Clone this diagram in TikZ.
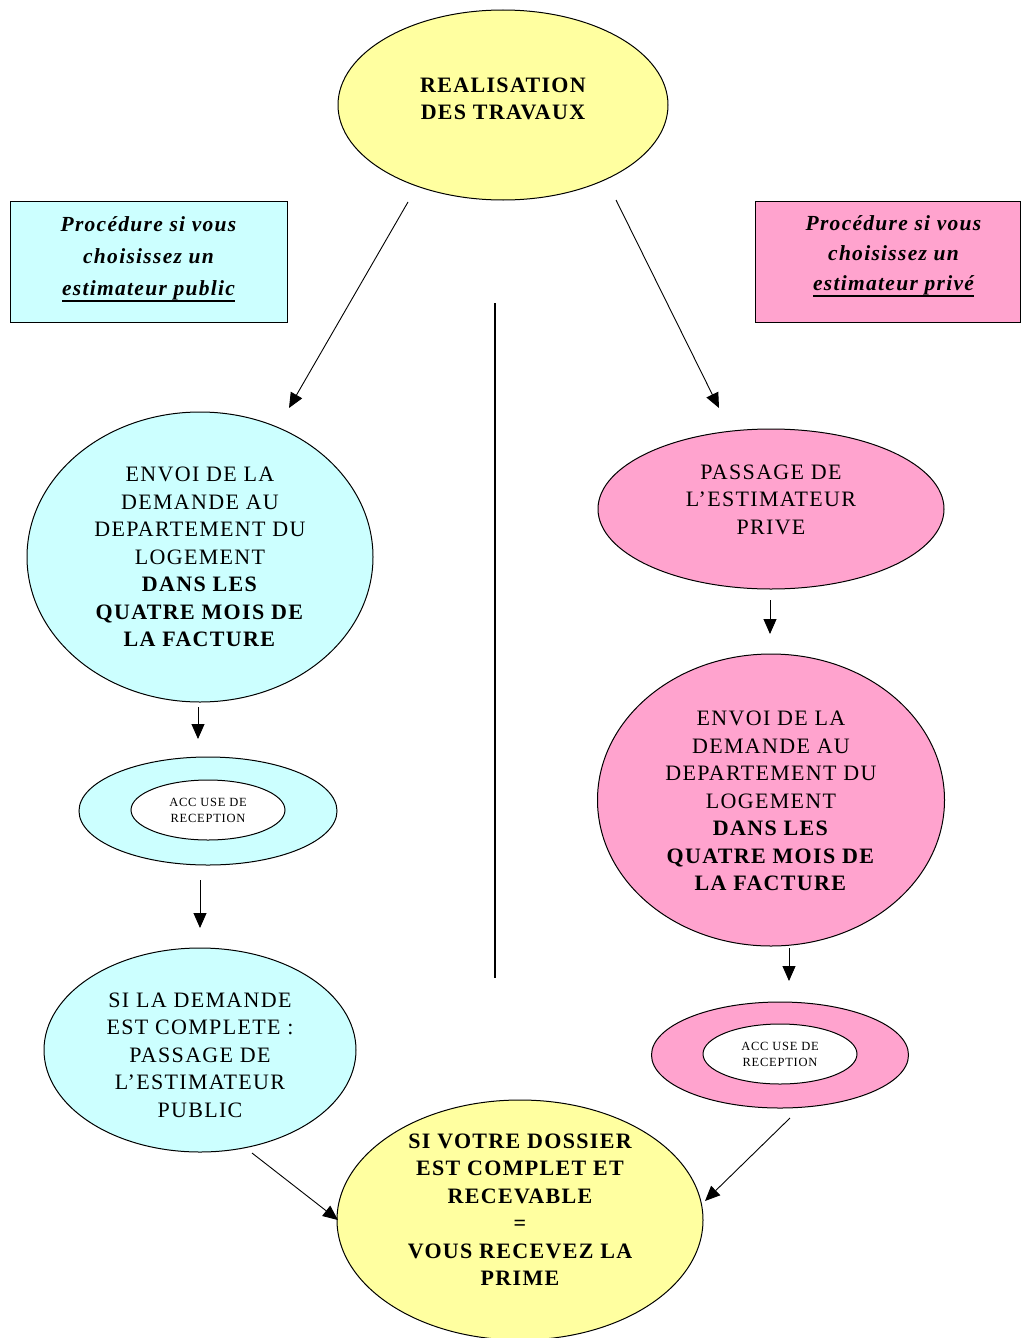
\documentclass[tikz,border=0pt]{standalone}
\usepackage{fontspec}
\setmainfont{Liberation Serif}[LetterSpace=6]
\newcommand{\myul}[1]{\leavevmode\setbox0\hbox{#1}\rlap{\rule[-6pt]{\wd0}{1.8pt}}\box0}
\usetikzlibrary{shapes.geometric,arrows.meta}
\definecolor{yel}{RGB}{255,255,160}
\definecolor{cya}{RGB}{204,255,255}
\definecolor{pnk}{RGB}{255,163,206}
\begin{document}
\begin{tikzpicture}[x=1pt,y=-1pt,
  ell/.style={ellipse, draw, line width=1pt, inner sep=0pt},
  lbl/.style={align=center, inner sep=0pt, font=\fontsize{22}{27.5}\selectfont},
  blbl/.style={lbl, font=\fontsize{22}{27.5}\selectfont\bfseries},
  smallell/.style={ellipse, draw, line width=1pt, inner sep=0pt, fill=white, align=center,
    font=\fontsize{12.5}{16}\selectfont, minimum width=154, minimum height=60},
  box/.style={draw, line width=1pt, inner sep=0pt, minimum height=121},
  boxtxt/.style={align=center, inner sep=0pt,
    font=\fontsize{21.5}{32}\selectfont\bfseries\itshape},
  arr/.style={line width=0.9pt, -{Triangle[length=15pt,width=13pt]}},
  sep/.style={line width=1.2pt}]
\useasboundingbox (0,0) rectangle (1021,1338);

% top
\node[ell, fill=yel, minimum width=330, minimum height=190,
  label={[blbl, yshift=6pt]center:{REALISATION\\DES TRAVAUX}}] (top) at (503,105) {};

% boxes
\node[box, fill=cya, minimum width=277,
  label={[boxtxt, yshift=2pt]center:{Procédure si vous\\choisissez un\\\myul{estimateur public}}}]
  (lbox) at (148.5,261.5) {};
\node[box, fill=pnk, minimum width=265,
  label={[boxtxt, xshift=6pt, yshift=5pt, font=\fontsize{21.5}{30}\selectfont\bfseries\itshape]center:{Procédure si vous\\choisissez un\\\myul{estimateur privé}}}]
  (rbox) at (887.5,261.5) {};

% left column
\node[ell, fill=cya, minimum width=346, minimum height=290,
  label={[lbl]center:{ENVOI DE LA\\DEMANDE AU\\DEPARTEMENT DU\\LOGEMENT\\
   \textbf{DANS LES}\\\textbf{QUATRE MOIS DE}\\\textbf{LA FACTURE}}}] (l1) at (200,557) {};
\node[ell, fill=cya, minimum width=258, minimum height=108] (l2) at (208,811) {};
\node[smallell] (l2i) at (208,810) {ACC USE DE\\RECEPTION};
\node[ell, fill=cya, minimum width=312, minimum height=204,
  label={[lbl, yshift=-5pt]center:{SI LA DEMANDE\\EST COMPLETE :\\PASSAGE DE\\L’ESTIMATEUR\\PUBLIC}}]
  (l3) at (200,1050) {};

% right column
\node[ell, fill=pnk, minimum width=346, minimum height=160,
  label={[lbl, yshift=9.5pt]center:{PASSAGE DE\\L’ESTIMATEUR\\PRIVE}}] (r1) at (771,509) {};
\node[ell, fill=pnk, minimum width=347, minimum height=292,
  label={[lbl, yshift=-1pt]center:{ENVOI DE LA\\DEMANDE AU\\DEPARTEMENT DU\\LOGEMENT\\
   \textbf{DANS LES}\\\textbf{QUATRE MOIS DE}\\\textbf{LA FACTURE}}}] (r2) at (771,800) {};
\node[ell, fill=pnk, minimum width=257, minimum height=106] (r3) at (780,1055) {};
\node[smallell] (r3i) at (780,1054) {ACC USE DE\\RECEPTION};

% bottom
\node[ell, fill=yel, minimum width=366, minimum height=240,
  label={[blbl, yshift=10.5pt]center:{SI VOTRE DOSSIER\\EST COMPLET ET\\RECEVABLE\\=\\VOUS RECEVEZ LA\\PRIME}}]
  (bot) at (520,1220) {};

% connector end points
\coordinate (a1s) at (408,202);  \coordinate (a1e) at (289,408);
\coordinate (a2s) at (616,200);  \coordinate (a2e) at (719,408);
\coordinate (a3s) at (198,707);  \coordinate (a3e) at (198,739);
\coordinate (a4s) at (200,880);  \coordinate (a4e) at (200,928);
\coordinate (a5s) at (252,1153); \coordinate (a5e) at (338,1220);
\coordinate (a6s) at (770,600);  \coordinate (a6e) at (770,634);
\coordinate (a7s) at (789,948);  \coordinate (a7e) at (789,981);
\coordinate (a8s) at (790,1118); \coordinate (a8e) at (705,1201);
\coordinate (vs) at (495,303);   \coordinate (ve) at (495,978);

\draw[arr] (a1s) -- (a1e);
\draw[arr] (a2s) -- (a2e);
\draw[arr] (a3s) -- (a3e);
\draw[arr] (a4s) -- (a4e);
\draw[arr] (a5s) -- (a5e);
\draw[arr] (a6s) -- (a6e);
\draw[arr] (a7s) -- (a7e);
\draw[arr] (a8s) -- (a8e);
\draw[sep] (vs) -- (ve);
\end{tikzpicture}
\end{document}
